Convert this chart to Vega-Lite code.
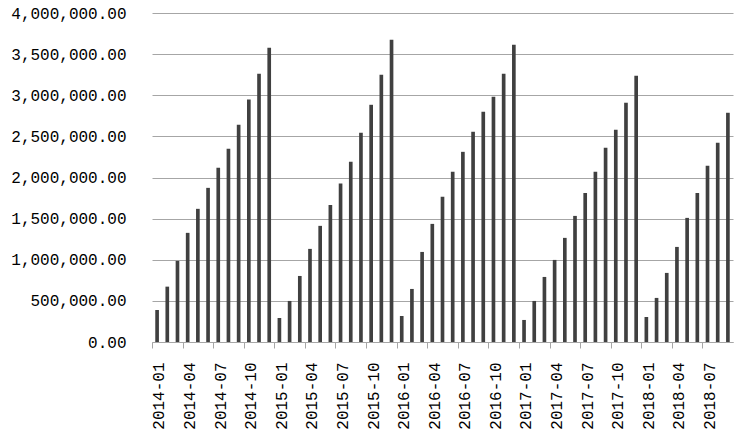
{
  "$schema": "https://vega.github.io/schema/vega-lite/v6.json",
  "width": 581,
  "height": 329,
  "autosize": "none",
  "padding": {"left": 152, "top": 13, "right": 10, "bottom": 99},
  "background": "white",
  "config": {"view": {"stroke": null}},
  "data": {"values": [
    {"month": "2014-01", "value": 389000}, {"month": "2014-02", "value": 673000}, {"month": "2014-03", "value": 986000},
    {"month": "2014-04", "value": 1327000}, {"month": "2014-05", "value": 1619000}, {"month": "2014-06", "value": 1874000},
    {"month": "2014-07", "value": 2118000}, {"month": "2014-08", "value": 2349000}, {"month": "2014-09", "value": 2641000},
    {"month": "2014-10", "value": 2949000}, {"month": "2014-11", "value": 3262000}, {"month": "2014-12", "value": 3578000},
    {"month": "2015-01", "value": 292000}, {"month": "2015-02", "value": 499000}, {"month": "2015-03", "value": 803000},
    {"month": "2015-04", "value": 1132000}, {"month": "2015-05", "value": 1412000}, {"month": "2015-06", "value": 1667000},
    {"month": "2015-07", "value": 1927000}, {"month": "2015-08", "value": 2191000}, {"month": "2015-09", "value": 2544000},
    {"month": "2015-10", "value": 2884000}, {"month": "2015-11", "value": 3250000}, {"month": "2015-12", "value": 3675000},
    {"month": "2016-01", "value": 316000}, {"month": "2016-02", "value": 645000}, {"month": "2016-03", "value": 1095000},
    {"month": "2016-04", "value": 1436000}, {"month": "2016-05", "value": 1765000}, {"month": "2016-06", "value": 2069000},
    {"month": "2016-07", "value": 2312000}, {"month": "2016-08", "value": 2556000}, {"month": "2016-09", "value": 2799000},
    {"month": "2016-10", "value": 2982000}, {"month": "2016-11", "value": 3262000}, {"month": "2016-12", "value": 3615000},
    {"month": "2017-01", "value": 268000}, {"month": "2017-02", "value": 499000}, {"month": "2017-03", "value": 791000},
    {"month": "2017-04", "value": 998000}, {"month": "2017-05", "value": 1266000}, {"month": "2017-06", "value": 1533000},
    {"month": "2017-07", "value": 1813000}, {"month": "2017-08", "value": 2069000}, {"month": "2017-09", "value": 2361000},
    {"month": "2017-10", "value": 2580000}, {"month": "2017-11", "value": 2909000}, {"month": "2017-12", "value": 3237000},
    {"month": "2018-01", "value": 304000}, {"month": "2018-02", "value": 536000}, {"month": "2018-03", "value": 840000},
    {"month": "2018-04", "value": 1156000}, {"month": "2018-05", "value": 1509000}, {"month": "2018-06", "value": 1813000},
    {"month": "2018-07", "value": 2142000}, {"month": "2018-08", "value": 2422000}, {"month": "2018-09", "value": 2787000}
  ]},
  "mark": {"type": "bar", "color": "#404040"},
  "encoding": {
    "x": {
      "field": "month",
      "type": "ordinal",
      "sort": null,
      "scale": {"paddingInner": 0.64, "paddingOuter": 0.32},
      "axis": {
        "title": null,
        "values": ["2014-01","2014-04","2014-07","2014-10","2015-01","2015-04","2015-07","2015-10","2016-01","2016-04","2016-07","2016-10","2017-01","2017-04","2017-07","2017-10","2018-01","2018-04","2018-07"],
        "labelAngle": -90,
        "labelFont": "Liberation Mono",
        "labelFontSize": 16,
        "labelColor": "#000000",
        "labelPadding": 14,
        "labelOffset": 7,
        "tickOffset": -5.1,
        "tickSize": 6,
        "tickColor": "#a6a6a6",
        "domainColor": "#a6a6a6",
        "grid": false
      }
    },
    "y": {
      "field": "value",
      "type": "quantitative",
      "scale": {"domain": [0, 4000000]},
      "axis": {
        "title": null,
        "values": [0, 500000, 1000000, 1500000, 2000000, 2500000, 3000000, 3500000, 4000000],
        "format": ",.2f",
        "labelFont": "Liberation Mono",
        "labelFontSize": 16,
        "labelColor": "#000000",
        "labelPadding": 26,
        "ticks": false,
        "domain": false,
        "grid": true,
        "gridColor": "#a6a6a6",
        "gridWidth": 1
      }
    }
  }
}
